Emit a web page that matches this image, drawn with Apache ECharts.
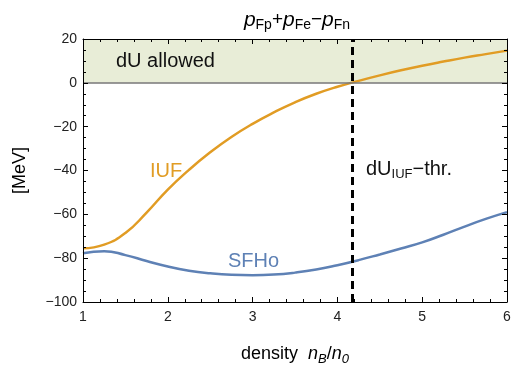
<!DOCTYPE html>
<html>
<head>
<meta charset="utf-8">
<script src="https://cdn.jsdelivr.net/npm/echarts@6/dist/echarts.min.js"></script>
<style>
  html, body { margin: 0; padding: 0; background: #fff; }
  #chart { width: 511px; height: 366px; }
</style>
</head>
<body>
<div id="chart"></div>
<script>
// density n_B/n_0, sampled every 0.25
var dens = [1, 1.25, 1.5, 1.75, 2, 2.25, 2.5, 2.75, 3, 3.25, 3.5, 3.75, 4, 4.25, 4.5, 4.75, 5, 5.25, 5.5, 5.75, 6];
// p_Fp + p_Fe - p_Fn [MeV]
var iuf = [-75.5, -73.8, -68.5, -59.2, -48.7, -39.7, -31.7, -24.7, -18.7, -13.5, -8.9, -5.0, -1.8, 0.9, 3.4, 5.7, 7.8, 9.7, 11.5, 13.1, 14.7];
var sfho = [-77.8, -76.8, -78.6, -81.3, -83.8, -85.7, -86.9, -87.6, -87.8, -87.5, -86.6, -85.2, -83.2, -80.9, -78.3, -75.6, -72.8, -69.3, -65.6, -62.1, -59];
var threshold = 4.17;
var allowed = [0, 20];

var font = 'Liberation Sans, Arial, sans-serif';
var orange = '#e19c24';
var blue = '#5e81b5';

function pairs(xs, ys) {
  return xs.map(function (x, i) { return [x, ys[i]]; });
}

var myChart = echarts.init(document.getElementById('chart'));

var axisLine = { show: true, onZero: false, lineStyle: { color: '#000', width: 1 } };
var axisTick = { show: true, inside: true, length: 5, lineStyle: { color: '#000' } };

function minor(n) {
  return { show: true, splitNumber: n, length: 3, lineStyle: { color: '#000' } };
}

var option = {
  animation: false,
  title: {
    text: '{i|p}{s|Fp}{n|+}{i|p}{s|Fe}{n|\u2212}{i|p}{s|Fn}',
    left: 292,
    textAlign: 'center',
    top: 3,
    textStyle: {
      fontWeight: 'normal',
      rich: {
        i: { fontFamily: font, fontStyle: 'italic', fontWeight: 'normal', fontSize: 21, color: '#000', lineHeight: 24 },
        n: { fontFamily: font, fontWeight: 'normal', fontSize: 19, color: '#000', lineHeight: 24 },
        s: { fontFamily: font, fontWeight: 'normal', fontSize: 14, color: '#000', lineHeight: 24, verticalAlign: 'bottom', padding: [7, 0, 0, 0] }
      }
    }
  },
  grid: { left: 83, right: 4, top: 39, bottom: 64, outerBoundsMode: 'none', containLabel: false },
  xAxis: [
    {
      type: 'value', min: 1, max: 6, interval: 1, position: 'bottom', z: 10,
      axisLine: axisLine, axisTick: axisTick, minorTick: minor(5), splitLine: { show: false },
      axisLabel: { color: '#222', fontFamily: font, fontSize: 14, margin: 8 },
      name: '{n|density  }{i|n}{s|B}{n|/}{i|n}{s|0}',
      nameLocation: 'middle',
      nameGap: 40,
      nameTextStyle: {
        rich: {
          n: { fontFamily: font, fontSize: 18, color: '#000', lineHeight: 24 },
          i: { fontFamily: font, fontStyle: 'italic', fontSize: 18, color: '#000', lineHeight: 24 },
          s: { fontFamily: font, fontStyle: 'italic', fontSize: 13, color: '#000', lineHeight: 24, verticalAlign: 'bottom', padding: [7, 0, 0, 0] }
        }
      }
    },
    {
      type: 'value', min: 1, max: 6, interval: 1, position: 'top', z: 10,
      axisLine: axisLine, axisTick: axisTick, minorTick: minor(5), splitLine: { show: false },
      axisLabel: { show: false }
    }
  ],
  yAxis: [
    {
      type: 'value', min: -100, max: 20, interval: 20, position: 'left', z: 10,
      axisLine: axisLine, axisTick: axisTick, minorTick: minor(4), splitLine: { show: false },
      axisLabel: {
        color: '#222', fontFamily: font, fontSize: 14, margin: 6,
        formatter: function (v) { return String(v).replace('-', '\u2212'); }
      },
      name: '[MeV]',
      nameLocation: 'middle',
      nameRotate: 90,
      nameGap: 54,
      nameTextStyle: { fontFamily: font, fontSize: 18, color: '#000' }
    },
    {
      type: 'value', min: -100, max: 20, interval: 20, position: 'right', z: 10,
      axisLine: axisLine, axisTick: axisTick, minorTick: minor(4), splitLine: { show: false },
      axisLabel: { show: false }
    }
  ],
  series: [
    {
      name: 'SFHo',
      type: 'line',
      smooth: true,
      showSymbol: false,
      data: pairs(dens, sfho),
      lineStyle: { color: blue, width: 2.5 },
      z: 3,
      markArea: {
        silent: true,
        itemStyle: { color: '#e8edd7' },
        data: [[{ yAxis: allowed[0] }, { yAxis: allowed[1] }]]
      },
      markLine: {
        silent: true,
        symbol: 'none',
        label: { show: false },
        data: [
          { yAxis: 0, lineStyle: { color: '#777', width: 1.5, type: 'solid' } }
        ]
      }
    },
    {
      name: 'IUF',
      type: 'line',
      smooth: true,
      showSymbol: false,
      data: pairs(dens, iuf),
      lineStyle: { color: orange, width: 2.5 },
      z: 3,
      markLine: {
        silent: true,
        symbol: 'none',
        label: { show: false },
        z: 5,
        data: [
          { xAxis: threshold, lineStyle: { color: '#000', width: 3, type: [8, 5] } }
        ]
      }
    }
  ],
  graphic: [
    { type: 'text', z: 100, left: 116, top: 51, style: { text: 'dU allowed', font: '20px ' + font, fill: '#111' } },
    { type: 'text', z: 100, left: 150, top: 161, style: { text: 'IUF', font: '20px ' + font, fill: orange } },
    { type: 'text', z: 100, left: 228, top: 251, style: { text: 'SFHo', font: '20px ' + font, fill: blue } },
    {
      type: 'text', z: 100, left: 366, top: 159,
      style: {
        text: '{n|dU}{s|IUF}{n|\u2212thr.}',
        rich: {
          n: { fontFamily: font, fontSize: 20, fill: '#111', lineHeight: 24 },
          s: { fontFamily: font, fontSize: 13, fill: '#111', lineHeight: 24, verticalAlign: 'bottom', padding: [7, 0, 0, 0] }
        }
      }
    }
  ]
};

myChart.setOption(option);
</script>
</body>
</html>
